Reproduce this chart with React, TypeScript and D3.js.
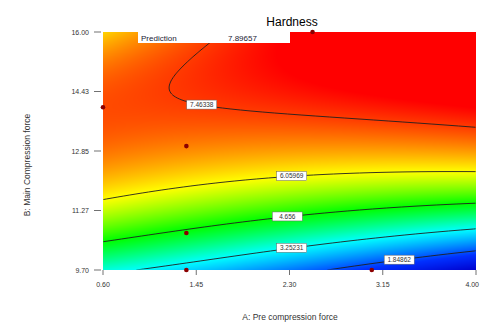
import React, { useMemo } from "react";
import * as d3 from "d3";

const W = 480;
const H = 324;
const plot = { x0: 103, x1: 476, y0: 32, y1: 270 };

// factor ranges and ticks
const aDomain = [0.6, 4.0];
const bDomain = [9.7, 16.0];
const xTicks = [0.6, 1.45, 2.3, 3.15, 4.0];
const xTickLabels = ["0.60", "1.45", "2.30", "3.15", "4.00"];
const yTicks = [9.7, 11.275, 12.85, 14.425, 16.0];
const yTickLabels = ["9.70", "11.27", "12.85", "14.43", "16.00"];

// Hardness model in coded factors (u = A coded, v = B coded)
const termNames = ["1", "B", "B^2", "B^3", "A", "AB", "AB^2", "AB^3", "A^2", "A^2B", "A^2B^2"];
const coefs = [6.7468, 2.8436, -1.71826, 0.02555, -0.13321, 1.11425, -0.08155, 0.16423, 0.17939, -0.13616, -0.51347];

// contour levels and where their labels sit (A value)
const levels = [1.84862, 3.25231, 4.656, 6.05969, 7.46338];
const levelLabels = ["1.84862", "3.25231", "4.656", "6.05969", "7.46338"];
const labelA = [3.3, 2.32, 2.28, 2.32, 1.5];

// design points
const pointsA = [0.6, 1.36, 1.36, 1.36, 3.05, 2.51];
const pointsB = [14.01, 12.98, 10.68, 9.7, 9.7, 16.0];

const colorStops = [0.44, 1.57, 3.25, 4.66, 6.06, 7.88];
const colorRange = ["#0000cc", "#0030ff", "#00ffff", "#00ff00", "#ffff00", "#ff0000"];

const terms = (u: number, v: number) => [1, v, v * v, v * v * v, u, u * v, u * v * v, u * v * v * v, u * u, u * u * v, u * u * v * v];

export default function App() {
  const x = d3.scaleLinear().domain(aDomain).range([plot.x0, plot.x1]);
  const y = d3.scaleLinear().domain(bDomain).range([plot.y1, plot.y0]);
  const model = (A: number, B: number) => {
    const u = (A - 2.3) / 1.7;
    const v = (B - 12.85) / 3.15;
    return d3.sum(terms(u, v), (t, i) => t * coefs[i]);
  };
  const color = d3.scaleLinear<string>().domain(colorStops).range(colorRange).interpolate(d3.interpolateRgb).clamp(true);

  const pw = plot.x1 - plot.x0;
  const ph = plot.y1 - plot.y0;

  const { href, paths, labels } = useMemo(() => {
    // colour field
    const canvas = document.createElement("canvas");
    canvas.width = pw;
    canvas.height = ph;
    const ctx = canvas.getContext("2d")!;
    const img = ctx.createImageData(pw, ph);
    for (let j = 0; j < ph; j++) {
      for (let i = 0; i < pw; i++) {
        const val = model(x.invert(plot.x0 + i + 0.5), y.invert(plot.y0 + j + 0.5));
        const c = d3.rgb(color(val));
        const k = (j * pw + i) * 4;
        img.data[k] = c.r;
        img.data[k + 1] = c.g;
        img.data[k + 2] = c.b;
        img.data[k + 3] = 255;
      }
    }
    ctx.putImageData(img, 0, 0);

    // contour lines
    const nx = pw + 1;
    const ny = ph + 1;
    const grid = new Array(nx * ny);
    for (let j = 0; j < ny; j++)
      for (let i = 0; i < nx; i++) grid[j * nx + i] = model(x.invert(plot.x0 + i), y.invert(plot.y0 + j));
    const cs = d3.contours().size([nx, ny]).thresholds(levels)(grid);
    const path = d3.geoPath();

    // label positions: first crossing going up from the bottom
    const labels = levels.map((lv, k) => {
      const A = labelA[k];
      let prev = model(A, bDomain[0]);
      let found = bDomain[0];
      for (let s = 1; s <= 600; s++) {
        const B = bDomain[0] + (s / 600) * (bDomain[1] - bDomain[0]);
        const val = model(A, B);
        if ((prev - lv) * (val - lv) <= 0) {
          found = B;
          break;
        }
        prev = val;
      }
      return { x: x(A), y: y(found), text: levelLabels[k] };
    });
    return { href: canvas.toDataURL(), paths: cs.map((c) => path(c) || ""), labels };
  }, []);

  return (
    <svg
      width={W}
      height={H}
      style={{ position: "absolute", left: 0, top: 0, background: "#fff" }}
      fontFamily="Liberation Sans, Arial, sans-serif"
    >
      <defs>
        <clipPath id="inner">
          <rect x={1} y={1} width={pw - 1} height={ph - 1} />
        </clipPath>
      </defs>
      <image x={plot.x0} y={plot.y0} width={pw} height={ph} href={href} preserveAspectRatio="none" />
      <g transform={`translate(${plot.x0 - 0.5},${plot.y0 - 0.5})`} clipPath="url(#inner)">
        {paths.map((d, i) => (
          <path key={i} d={d} fill="none" stroke="#202020" strokeWidth={0.9} />
        ))}
      </g>
      {labels.map((l, i) => (
        <g key={i}>
          <rect x={l.x - 15} y={l.y - 4.5} width={30} height={9} fill="#fff" stroke="#666" strokeWidth={0.5} />
          <text x={l.x} y={l.y + 2.3} fontSize={6.5} textAnchor="middle" fill="#333">
            {l.text}
          </text>
        </g>
      ))}
      {pointsA.map((a, i) => (
        <circle key={i} cx={x(a)} cy={y(pointsB[i])} r={2.3} fill="#8b0000" />
      ))}

      <text x={292} y={26} fontSize={12} textAnchor="middle">Hardness</text>
      <rect x={138} y={32} width={152} height={11} fill="#fff" />
      <text x={141} y={40.5} fontSize={8} fill="#223">Prediction</text>
      <text x={228} y={40.5} fontSize={8} fill="#223">7.89657</text>

      {xTicks.map((t, i) => (
        <g key={i}>
          <line x1={x(t)} x2={x(t)} y1={plot.y1} y2={plot.y1 + 5} stroke="#333" strokeWidth={0.7} />
          <text
            x={i === xTicks.length - 1 ? 479 : x(t)}
            y={plot.y1 + 17}
            fontSize={7}
            textAnchor={i === xTicks.length - 1 ? "end" : "middle"}
            fill="#333"
          >
            {xTickLabels[i]}
          </text>
        </g>
      ))}
      {yTicks.map((t, i) => (
        <g key={i}>
          <line x1={plot.x0 - 9} x2={plot.x0 - 2} y1={y(t)} y2={y(t)} stroke="#333" strokeWidth={0.7} />
          <text x={plot.x0 - 14} y={y(t) + 2.5} fontSize={7} textAnchor="end" fill="#333">
            {yTickLabels[i]}
          </text>
        </g>
      ))}
      <text x={290} y={320} fontSize={8.5} textAnchor="middle" fill="#333">
        A: Pre compression force
      </text>
      <text
        transform={`translate(30,${(plot.y0 + plot.y1) / 2 + 14}) rotate(-90)`}
        fontSize={8.5}
        textAnchor="middle"
        fill="#333"
      >
        B: Main Compression force
      </text>
    </svg>
  );
}
